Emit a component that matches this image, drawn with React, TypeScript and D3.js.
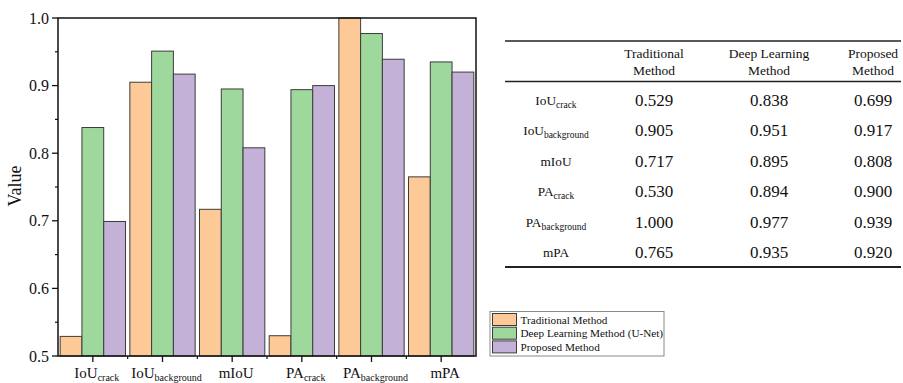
import React from "react";
import * as d3 from "d3";

// Metric names: base text plus optional subscript
const metricBase = ["IoU", "IoU", "mIoU", "PA", "PA", "mPA"];
const metricSub = ["crack", "background", "", "crack", "background", ""];

const seriesNames = ["Traditional Method", "Deep Learning Method (U-Net)", "Proposed Method"];
const traditional = [0.529, 0.905, 0.717, 0.53, 1.0, 0.765];
const deepLearning = [0.838, 0.951, 0.895, 0.894, 0.977, 0.935];
const proposed = [0.699, 0.917, 0.808, 0.9, 0.939, 0.92];

const yTicks = [0.5, 0.6, 0.7, 0.8, 0.9, 1.0];
const yMinorTicks = [0.55, 0.65, 0.75, 0.85, 0.95];

const tableHeader1 = ["Traditional", "Deep Learning", "Proposed"];
const tableHeader2 = ["Method", "Method", "Method"];

const colors = ["#FDC996", "#9ED89C", "#C3B1D7"];

const W = 903;
const H = 383;
const plot = { left: 58, right: 476, top: 18, bottom: 356 };

function MetricLabel({ base, sub, x, y, size, subSize, anchor = "middle" }: any) {
  return (
    <text x={x} y={y} fontSize={size} textAnchor={anchor} fill="#111">
      {base}
      {sub ? (
        <tspan fontSize={subSize} dy={size * 0.22}>
          {sub}
        </tspan>
      ) : null}
    </text>
  );
}

export default function App() {
  const series = [traditional, deepLearning, proposed];
  const x0 = d3
    .scaleBand<number>()
    .domain(d3.range(metricBase.length))
    .range([plot.left, plot.right])
    .paddingInner(0)
    .paddingOuter(0);
  const x1 = d3
    .scaleBand<number>()
    .domain([0, 1, 2])
    .range([0, x0.bandwidth()])
    .paddingInner(0)
    .paddingOuter(0.1);
  const y = d3.scaleLinear().domain([0.5, 1.0]).range([plot.bottom, plot.top]);

  const boundaries = d3.range(1, metricBase.length).map((i) => x0(i)!);

  // table geometry
  const tLeft = 505;
  const tRight = 901;
  const colX = [654, 769, 873];
  const labelX = 556;
  const rowY = d3.range(metricBase.length).map((i) => 106 + i * 30.4);

  return (
    <svg
      width={W}
      height={H}
      style={{ position: "absolute", left: 0, top: 0, background: "#fff", fontFamily: "Liberation Serif" }}
    >
      <rect x={0} y={0} width={W} height={H} fill="#fff" />

      {/* bars */}
      {series.map((vals, s) =>
        vals.map((v, i) => (
          <rect
            key={`${s}-${i}`}
            x={x0(i)! + x1(s)!}
            y={y(v)}
            width={x1.bandwidth()}
            height={y(0.5) - y(v)}
            fill={colors[s]}
            stroke="#3c3c3c"
            strokeWidth={1}
          />
        ))
      )}

      {/* frame */}
      <rect
        x={plot.left}
        y={plot.top}
        width={plot.right - plot.left}
        height={plot.bottom - plot.top}
        fill="none"
        stroke="#111"
        strokeWidth={1.5}
      />

      {/* y ticks */}
      {yTicks.map((t) => (
        <g key={t}>
          <line x1={plot.left - 6} x2={plot.left} y1={y(t)} y2={y(t)} stroke="#111" strokeWidth={1.3} />
          <text x={plot.left - 9} y={y(t)} dy="0.35em" textAnchor="end" fontSize={16} fill="#111">
            {t.toFixed(1)}
          </text>
        </g>
      ))}
      {yMinorTicks.map((t) => (
        <line key={t} x1={plot.left - 3} x2={plot.left} y1={y(t)} y2={y(t)} stroke="#111" strokeWidth={1.2} />
      ))}

      {/* x ticks */}
      {metricBase.map((_, i) => {
        const cx = x0(i)! + x0.bandwidth() / 2;
        return <line key={i} x1={cx} x2={cx} y1={plot.bottom} y2={plot.bottom + 6} stroke="#111" strokeWidth={1.3} />;
      })}
      {boundaries.map((bx, i) => (
        <line key={i} x1={bx} x2={bx} y1={plot.bottom} y2={plot.bottom + 3} stroke="#111" strokeWidth={1.2} />
      ))}

      {/* x labels */}
      {metricBase.map((b, i) => (
        <MetricLabel
          key={i}
          base={b}
          sub={metricSub[i]}
          x={x0(i)! + x0.bandwidth() / 2 + 4}
          y={378}
          size={15}
          subSize={10}
        />
      ))}

      {/* y axis title */}
      <text transform={`translate(21, 186) rotate(-90)`} textAnchor="middle" fontSize={18} fill="#111">
        Value
      </text>

      {/* legend */}
      <rect x={490} y={311.5} width={174} height={44.5} fill="#fff" stroke="#8a8a8a" strokeWidth={1} />
      {seriesNames.map((n, s) => (
        <g key={n}>
          <rect x={492.5} y={313.5 + s * 13.7} width={24} height={12} fill={colors[s]} stroke="#3c3c3c" strokeWidth={1} />
          <text x={520.5} y={323.5 + s * 13.8} fontSize={11.2} fill="#111">
            {n}
          </text>
        </g>
      ))}

      {/* table */}
      <line x1={tLeft} x2={tRight} y1={41} y2={41} stroke="#222" strokeWidth={1.6} />
      <line x1={tLeft} x2={tRight} y1={81.5} y2={81.5} stroke="#222" strokeWidth={1.6} />
      <line x1={tLeft} x2={tRight} y1={267} y2={267} stroke="#222" strokeWidth={2} />
      {tableHeader1.map((h, c) => (
        <g key={h}>
          <text x={colX[c]} y={58} textAnchor="middle" fontSize={13.5} fill="#111">
            {h}
          </text>
          <text x={colX[c]} y={75} textAnchor="middle" fontSize={13.5} fill="#111">
            {tableHeader2[c]}
          </text>
        </g>
      ))}
      {metricBase.map((b, i) => (
        <g key={i}>
          <MetricLabel base={b} sub={metricSub[i]} x={labelX} y={rowY[i] - 1} size={13.3} subSize={9.5} />
          {series.map((vals, s) => (
            <text key={s} x={colX[s]} y={rowY[i]} textAnchor="middle" fontSize={17} fill="#111">
              {vals[i].toFixed(3)}
            </text>
          ))}
        </g>
      ))}
    </svg>
  );
}
